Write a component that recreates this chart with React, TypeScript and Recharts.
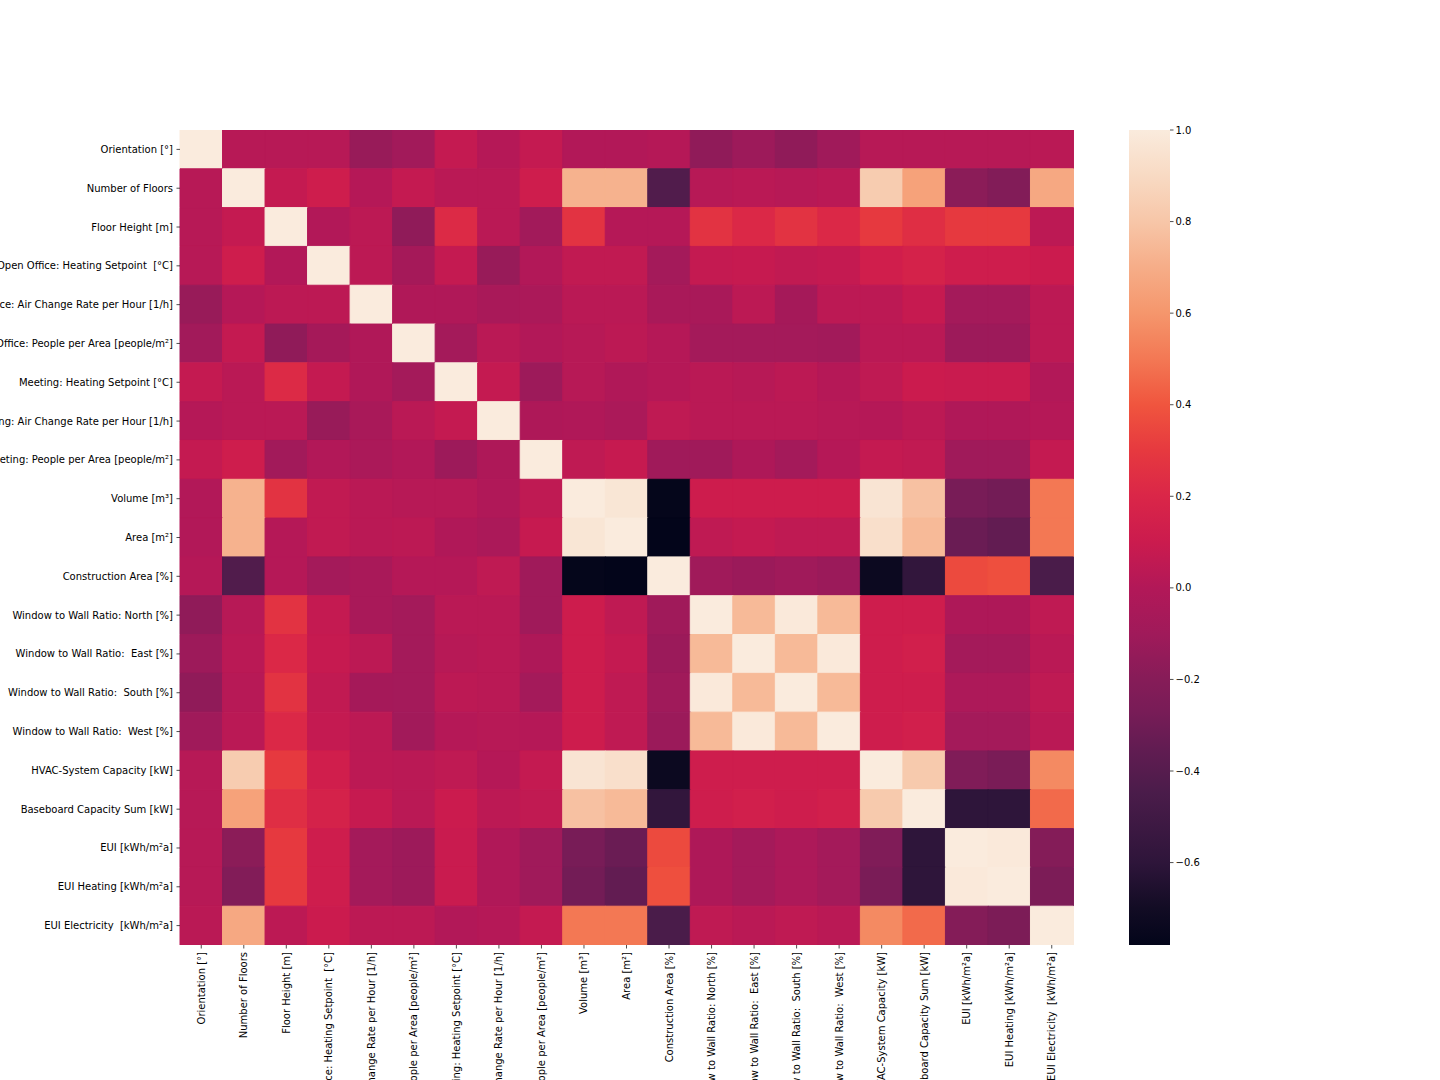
import React from "react";
import { BarChart, Bar, XAxis, YAxis, Cell } from "recharts";

const labels = [
  "Orientation [°]",
  "Number of Floors",
  "Floor Height [m]",
  "Open Office: Heating Setpoint  [°C]",
  "Open Office: Air Change Rate per Hour [1/h]",
  "Open Office: People per Area [people/m²]",
  "Meeting: Heating Setpoint [°C]",
  "Meeting: Air Change Rate per Hour [1/h]",
  "Meeting: People per Area [people/m²]",
  "Volume [m³]",
  "Area [m²]",
  "Construction Area [%]",
  "Window to Wall Ratio: North [%]",
  "Window to Wall Ratio:  East [%]",
  "Window to Wall Ratio:  South [%]",
  "Window to Wall Ratio:  West [%]",
  "HVAC-System Capacity [kW]",
  "Baseboard Capacity Sum [kW]",
  "EUI [kWh/m²a]",
  "EUI Heating [kWh/m²a]",
  "EUI Electricity  [kWh/m²a]",
];

const row0 = [1, 0.02, 0.02, 0.02, -0.13, -0.09, 0.07, 0.01, 0.07, 0.0, 0.0, 0.01, -0.16, -0.11, -0.16, -0.1, 0.02, 0.02, 0.02, 0.02, 0.03];
const row1 = [0.02, 1, 0.07, 0.12, 0.01, 0.07, 0.03, 0.03, 0.12, 0.72, 0.72, -0.42, 0.02, 0.03, 0.02, 0.03, 0.83, 0.65, -0.18, -0.22, 0.68];
const row2 = [0.02, 0.07, 1, 0.0, 0.04, -0.16, 0.22, 0.03, -0.09, 0.27, 0.01, 0.01, 0.27, 0.21, 0.27, 0.21, 0.3, 0.24, 0.3, 0.3, 0.04];
const row3 = [0.02, 0.12, 0.0, 1, 0.04, -0.07, 0.07, -0.13, 0.0, 0.06, 0.06, -0.08, 0.07, 0.08, 0.06, 0.07, 0.13, 0.16, 0.12, 0.12, 0.1];
const row4 = [-0.13, 0.01, 0.04, 0.04, 1, -0.01, -0.01, -0.05, -0.04, 0.03, 0.03, -0.05, -0.05, 0.04, -0.07, 0.04, 0.04, 0.08, -0.08, -0.08, 0.04];
const row5 = [-0.09, 0.07, -0.16, -0.07, -0.01, 1, -0.08, 0.03, 0.0, 0.02, 0.04, 0.01, -0.08, -0.08, -0.08, -0.09, 0.03, 0.03, -0.11, -0.11, 0.04];
const row6 = [0.07, 0.03, 0.22, 0.07, -0.01, -0.08, 1, 0.07, -0.11, 0.02, -0.01, 0.01, 0.03, 0.02, 0.04, 0.01, 0.05, 0.1, 0.09, 0.09, 0.0];
const row7 = [0.01, 0.03, 0.03, -0.13, -0.05, 0.03, 0.07, 1, -0.02, -0.01, -0.04, 0.05, 0.03, 0.03, 0.03, 0.02, 0.01, 0.04, -0.01, -0.01, 0.01];
const row8 = [0.07, 0.12, -0.09, 0.0, -0.04, 0.0, -0.11, -0.02, 1, 0.05, 0.08, -0.1, -0.1, -0.02, -0.08, 0.01, 0.07, 0.06, -0.1, -0.1, 0.07];
const row9 = [0.0, 0.72, 0.27, 0.06, 0.03, 0.02, 0.02, -0.01, 0.05, 1, 0.97, -0.77, 0.11, 0.11, 0.11, 0.11, 0.96, 0.78, -0.27, -0.29, 0.5];
const row10 = [0.0, 0.72, 0.01, 0.06, 0.03, 0.04, -0.01, -0.04, 0.08, 0.97, 1, -0.78, 0.05, 0.07, 0.05, 0.05, 0.93, 0.75, -0.32, -0.35, 0.5];
const row11 = [0.01, -0.42, 0.01, -0.08, -0.05, 0.01, 0.01, 0.05, -0.1, -0.77, -0.78, 1, -0.1, -0.12, -0.1, -0.12, -0.73, -0.58, 0.36, 0.38, -0.45];
const row12 = [-0.16, 0.02, 0.27, 0.07, -0.05, -0.08, 0.03, 0.03, -0.1, 0.11, 0.05, -0.1, 1, 0.75, 0.99, 0.75, 0.12, 0.12, -0.02, -0.02, 0.05];
const row13 = [-0.11, 0.03, 0.21, 0.08, 0.04, -0.08, 0.02, 0.03, -0.02, 0.11, 0.07, -0.12, 0.75, 1, 0.75, 0.99, 0.12, 0.14, -0.08, -0.08, 0.03];
const row14 = [-0.16, 0.02, 0.27, 0.06, -0.07, -0.08, 0.04, 0.03, -0.08, 0.11, 0.05, -0.1, 0.99, 0.75, 1, 0.75, 0.12, 0.12, -0.03, -0.03, 0.05];
const row15 = [-0.1, 0.03, 0.21, 0.07, 0.04, -0.09, 0.01, 0.02, 0.01, 0.11, 0.05, -0.12, 0.75, 0.99, 0.75, 1, 0.12, 0.14, -0.08, -0.08, 0.03];
const row16 = [0.02, 0.83, 0.3, 0.13, 0.04, 0.03, 0.05, 0.01, 0.07, 0.96, 0.93, -0.73, 0.12, 0.12, 0.12, 0.12, 1, 0.82, -0.23, -0.26, 0.56];
const row17 = [0.02, 0.65, 0.24, 0.16, 0.08, 0.03, 0.1, 0.04, 0.06, 0.78, 0.75, -0.58, 0.12, 0.14, 0.12, 0.14, 0.82, 1, -0.6, -0.6, 0.46];
const row18 = [0.02, -0.18, 0.3, 0.12, -0.08, -0.11, 0.09, -0.01, -0.1, -0.27, -0.32, 0.36, -0.02, -0.08, -0.03, -0.08, -0.23, -0.6, 1, 0.99, -0.21];
const row19 = [0.02, -0.22, 0.3, 0.12, -0.08, -0.11, 0.09, -0.01, -0.1, -0.29, -0.35, 0.38, -0.02, -0.08, -0.03, -0.08, -0.26, -0.6, 0.99, 1, -0.25];
const row20 = [0.03, 0.68, 0.04, 0.1, 0.04, 0.04, 0.0, 0.01, 0.07, 0.5, 0.5, -0.45, 0.05, 0.03, 0.05, 0.03, 0.56, 0.46, -0.21, -0.25, 1];

const matrix = [row0, row1, row2, row3, row4, row5, row6, row7, row8, row9, row10, row11, row12, row13, row14, row15, row16, row17, row18, row19, row20];

const colorbarTicks = [-0.6, -0.4, -0.2, 0, 0.2, 0.4, 0.6, 0.8, 1.0];
const cMin = -0.78;
const cMax = 1.0;

// rocket-like colormap stops: [value, r, g, b]
const rocketStops: [number, number, number, number][] = [
  [-0.78, 3, 5, 26],
  [-0.7, 18, 12, 36],
  [-0.6, 46, 21, 58],
  [-0.45, 74, 28, 74],
  [-0.35, 98, 28, 82],
  [-0.27, 120, 28, 87],
  [-0.2, 134, 28, 88],
  [-0.1, 160, 26, 90],
  [0.0, 178, 24, 88],
  [0.1, 203, 27, 78],
  [0.2, 218, 38, 72],
  [0.3, 230, 57, 63],
  [0.4, 240, 85, 62],
  [0.5, 243, 120, 84],
  [0.6, 245, 150, 108],
  [0.7, 246, 173, 136],
  [0.8, 247, 198, 168],
  [0.9, 248, 218, 195],
  [1.0, 250, 235, 221],
];

function rocket(v: number): string {
  const s = rocketStops;
  if (v <= s[0][0]) return `rgb(${s[0][1]},${s[0][2]},${s[0][3]})`;
  for (let k = 1; k < s.length; k++) {
    if (v <= s[k][0]) {
      const a = s[k - 1];
      const b = s[k];
      const f = (v - a[0]) / (b[0] - a[0]);
      const r = Math.round(a[1] + (b[1] - a[1]) * f);
      const g = Math.round(a[2] + (b[2] - a[2]) * f);
      const bl = Math.round(a[3] + (b[3] - a[3]) * f);
      return `rgb(${r},${g},${bl})`;
    }
  }
  const l = s[s.length - 1];
  return `rgb(${l[1]},${l[2]},${l[3]})`;
}

const heatData = labels.map((name) => {
  const o: any = { name };
  labels.forEach((_, i) => {
    o["r" + i] = 1;
  });
  return o;
});

const rowTicks = labels.map((_, i) => i + 0.5);
const colorbarData = [{ name: "cb", range: [cMin, cMax] }];

const FONT = "DejaVu Sans, Verdana, sans-serif";

const XTick = (props: any) => {
  const { x, y, payload } = props;
  return (
    <text
      x={x}
      y={y}
      transform={`rotate(-90 ${x} ${y})`}
      textAnchor="end"
      dominantBaseline="central"
      fontSize={10}
      fontFamily={FONT}
      fill="#000"
      style={{ whiteSpace: "pre" }}
    >
      {payload.value}
    </text>
  );
};

const YTick = (props: any) => {
  const { x, y, payload } = props;
  const label = labels[Math.floor(payload.value)];
  return (
    <text
      x={x}
      y={y}
      textAnchor="end"
      dominantBaseline="central"
      fontSize={10}
      fontFamily={FONT}
      fill="#000"
      style={{ whiteSpace: "pre" }}
    >
      {label}
    </text>
  );
};

const CTick = (props: any) => {
  const { x, y, payload } = props;
  const v = payload.value as number;
  const txt = (v < 0 ? "\u2212" : "") + Math.abs(v).toFixed(1);
  return (
    <text x={x} y={y} textAnchor="start" dominantBaseline="central" fontSize={10} fontFamily={FONT} fill="#000">
      {txt}
    </text>
  );
};

export default function App() {
  return (
    <div style={{ position: "absolute", left: 0, top: 0, width: 1440, height: 1080, background: "#fff", overflow: "hidden" }}>
      <div style={{ position: "absolute", left: 0, top: 0 }}>
        <BarChart
          width={1100}
          height={1080}
          data={heatData}
          margin={{ top: 130, right: 27, bottom: 0, left: 0 }}
          barCategoryGap={0}
          barGap={0}
        >
          <XAxis
            dataKey="name"
            type="category"
            interval={0}
            height={135}
            axisLine={false}
            tickLine={{ stroke: "#222", strokeWidth: 0.8 }}
            tickSize={3.5}
            tickMargin={3.5}
            tick={<XTick />}
          />
          <YAxis
            type="number"
            domain={[0, 21]}
            reversed
            ticks={rowTicks}
            interval={0}
            width={180}
            axisLine={false}
            tickLine={{ stroke: "#222", strokeWidth: 0.8 }}
            tickSize={3.5}
            tickMargin={3.5}
            tick={<YTick />}
            allowDataOverflow
          />
          {matrix.map((row, i) => (
            <Bar key={i} dataKey={"r" + i} stackId="s" isAnimationActive={false}>
              {row.map((v, j) => (
                <Cell key={j} fill={rocket(v)} stroke={rocket(v)} strokeWidth={1} />
              ))}
            </Bar>
          ))}
        </BarChart>
      </div>
      <div style={{ position: "absolute", left: 1100, top: 0 }}>
        <BarChart
          width={160}
          height={1080}
          data={colorbarData}
          margin={{ top: 130, right: 30, bottom: 135, left: 29 }}
          barCategoryGap={0}
        >
          <defs>
            <linearGradient id="rocketGrad" x1="0" y1="0" x2="0" y2="1">
              {rocketStops
                .slice()
                .reverse()
                .map((s, k) => (
                  <stop key={k} offset={(cMax - s[0]) / (cMax - cMin)} stopColor={`rgb(${s[1]},${s[2]},${s[3]})`} />
                ))}
            </linearGradient>
          </defs>
          <XAxis dataKey="name" hide />
          <YAxis
            type="number"
            orientation="right"
            domain={[cMin, cMax]}
            ticks={colorbarTicks}
            interval={0}
            width={60}
            axisLine={false}
            tickLine={{ stroke: "#222", strokeWidth: 0.8 }}
            tickSize={3.5}
            tickMargin={2}
            tick={<CTick />}
            allowDataOverflow
          />
          <Bar dataKey="range" fill="url(#rocketGrad)" isAnimationActive={false} />
        </BarChart>
      </div>
    </div>
  );
}
